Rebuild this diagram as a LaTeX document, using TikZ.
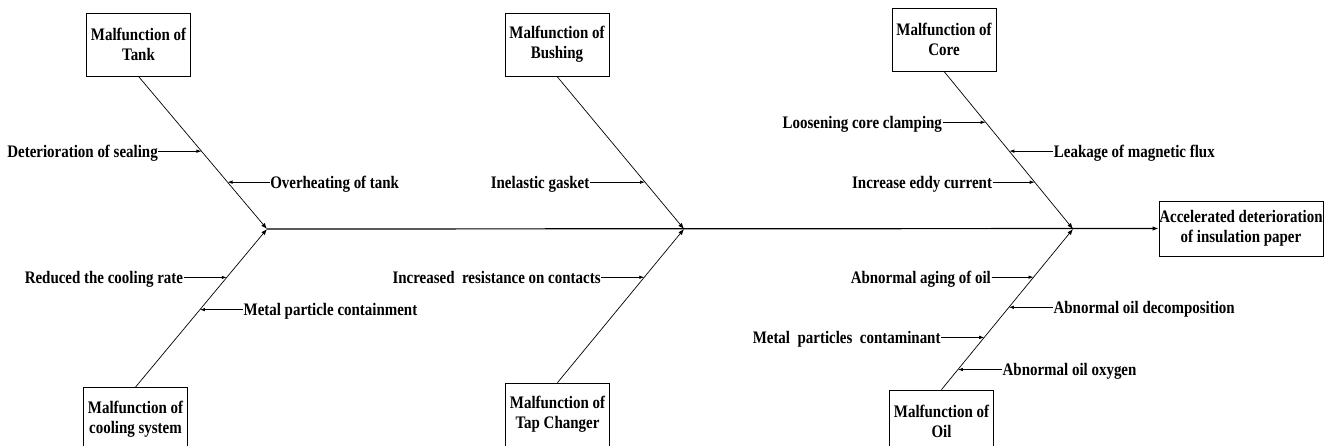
\documentclass[tikz,border=0pt]{standalone}
\usepackage{fontspec}
\setmainfont{Liberation Serif}[FakeStretch=0.85]
\usetikzlibrary{arrows.meta,calc}
\begin{document}
\begin{tikzpicture}[x=1pt,y=-1pt,
  every node/.style={font=\fontsize{17.6}{20}\selectfont\bfseries},
  cause/.style={draw, line width=0.8pt, align=center, minimum width=104pt, minimum height=63pt, inner sep=0pt},
  lbl/.style={inner xsep=0.5pt, inner ysep=0pt, text height=12pt, text depth=0pt},
  bone/.style={line width=0.7pt, -{Latex[length=6pt,width=4.5pt]}},
  spine/.style={line width=1.2pt, -{Latex[length=6pt,width=4.5pt]}},
  sub/.style={line width=0.7pt, -{Latex[length=5pt,width=3.5pt]}},
]
\useasboundingbox (0,0) rectangle (1333,445);

% cause boxes
\node[cause] (tank) at (138.5,44.5) {Malfunction of\\Tank};
\node[cause] (bush) at (557,44.5) {Malfunction of\\Bushing};
\node[cause] (core) at (944,39.5) {Malfunction of\\Core};
\node[cause] (cool) at (135.5,419) {Malfunction of\\cooling system};
\node[cause] (tap) at (557.5,414.5) {Malfunction of\\Tap Changer};
\node[cause] (oil) at (941.5,421.5) {Malfunction of\\Oil};
\node[cause, minimum width=164pt, minimum height=55pt] (res) at (1241,228.5) {Accelerated deterioration\\of insulation paper};

% junctions
\coordinate (j1) at (267,229);
\coordinate (j2) at (684,229);
\coordinate (j3) at (1073,229);

% spine and bones
\draw[spine] (j1) -- (res.west);
\draw[bone] (tank.south) -- (j1);
\draw[bone] (cool.north) -- (j1);
\draw[bone] (bush.south) -- (j2);
\draw[bone] (tap.north) -- (j2);
\draw[bone] (core.south) -- (j3);
\draw[bone] (oil.north) -- (j3);

% points on bones
\coordinate (a1) at ($(tank.south)!0.490!(j1)$);
\coordinate (a2) at ($(tank.south)!0.693!(j1)$);
\coordinate (b1) at ($(cool.north)!0.694!(j1)$);
\coordinate (b2) at ($(cool.north)!0.490!(j1)$);
\coordinate (c1) at ($(bush.south)!0.693!(j2)$);
\coordinate (d1) at ($(tap.north)!0.686!(j2)$);
\coordinate (e1) at ($(core.south)!0.323!(j3)$);
\coordinate (e2) at ($(core.south)!0.506!(j3)$);
\coordinate (e3) at ($(core.south)!0.703!(j3)$);
\coordinate (f1) at ($(oil.north)!0.700!(j3)$);
\coordinate (f2) at ($(oil.north)!0.5125!(j3)$);
\coordinate (f3) at ($(oil.north)!0.325!(j3)$);
\coordinate (f4) at ($(oil.north)!0.125!(j3)$);

% sub-cause labels
\node[lbl, anchor=east] (l1) at ([xshift=-43pt]a1) {Deterioration of sealing};
\node[lbl, anchor=west] (l2) at ([xshift=42pt]a2) {Overheating of tank};
\node[lbl, anchor=east] (l3) at ([xshift=-43pt]b1) {Reduced the cooling rate};
\node[lbl, anchor=west] (l4) at ([xshift=43pt]b2) {Metal particle containment};
\node[lbl, anchor=east] (l5) at ([xshift=-55pt]c1) {Inelastic gasket};
\node[lbl, anchor=east] (l6) at ([xshift=-43pt]d1) {Increased~ resistance on contacts};
\node[lbl, anchor=east] (l7) at ([xshift=-43pt]e1) {Loosening core clamping};
\node[lbl, anchor=west] (l8) at ([xshift=44pt]e2) {Leakage of magnetic flux};
\node[lbl, anchor=east] (l9) at ([xshift=-42pt]e3) {Increase eddy current};
\node[lbl, anchor=east] (l10) at ([xshift=-42pt]f1) {Abnormal aging of oil};
\node[lbl, anchor=west] (l11) at ([xshift=44pt]f2) {Abnormal oil decomposition};
\node[lbl, anchor=east] (l12) at ([xshift=-43pt]f3) {Metal~ particles~ contaminant};
\node[lbl, anchor=west] (l13) at ([xshift=44pt]f4) {Abnormal oil oxygen};

\foreach \l/\p in {l1/a1,l2/a2,l3/b1,l4/b2,l5/c1,l6/d1,l7/e1,l8/e2,l9/e3,l10/f1,l11/f2,l12/f3,l13/f4}
  \draw[sub] (\l) -- (\p);
\end{tikzpicture}
\end{document}
